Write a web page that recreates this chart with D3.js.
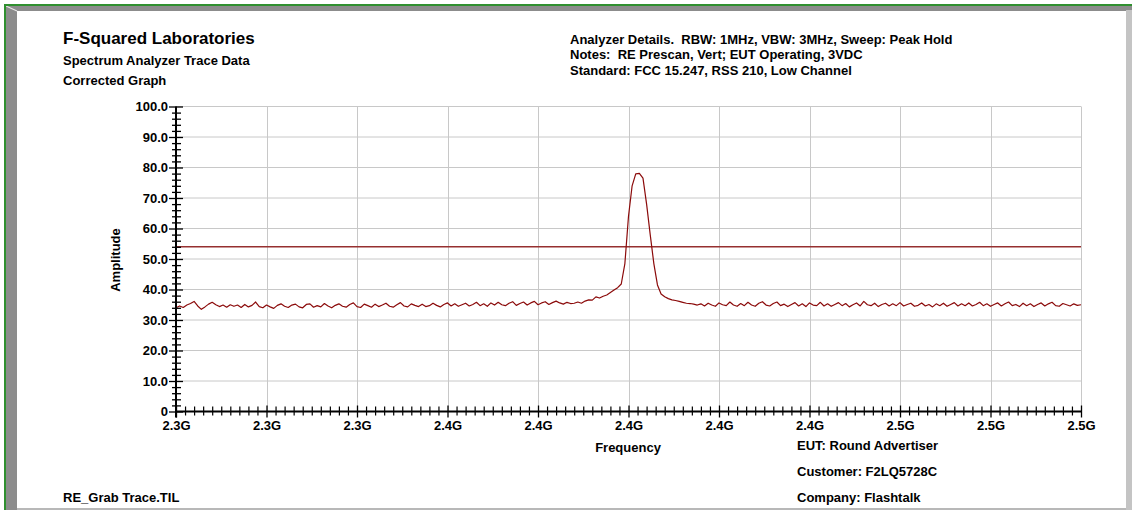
<!DOCTYPE html>
<html>
<head>
<meta charset="utf-8">
<script src="https://cdn.jsdelivr.net/npm/d3@7"></script>
<style>
  html, body { margin: 0; padding: 0; background: #ffffff; }
  svg { display: block; }
  text { font-family: "Liberation Sans", Arial, Helvetica, sans-serif; font-weight: bold; fill: #000; white-space: pre; }
</style>
</head>
<body>
<svg id="chart" width="1132" height="510"></svg>
<script>
// ---- Sweep settings (Hz) ----
const sweepStartHz = 2.30e9;
const sweepStopHz = 2.50e9;

// ---- Measured amplitude trace (dBuV/m), peak-hold sweep, 251 points ----
const traceAmplitude = [
  34.0, 34.6, 34.1, 34.9, 35.4, 36.1, 34.6, 33.5, 34.3, 35.2,
  35.8, 35.0, 34.4, 34.9, 34.2, 35.0, 34.5, 34.9, 34.1, 35.1,
  34.3, 34.8, 35.9, 34.4, 34.0, 34.9, 34.3, 33.8, 34.8, 35.3,
  34.5, 34.1, 34.9, 35.2, 34.3, 34.0, 35.1, 35.3, 34.2, 34.7,
  34.3, 35.4, 34.6, 34.0, 34.8, 35.3, 34.5, 34.2, 35.1, 35.6,
  34.4, 34.1, 35.2, 34.7, 34.2, 35.2, 34.4, 34.9, 35.5, 34.5,
  34.2, 35.0, 35.7, 34.6, 34.3, 35.3, 34.8, 34.4, 35.2, 34.4,
  34.7, 35.5, 34.8, 34.3, 35.1, 35.6, 34.6, 35.3, 34.5, 35.0,
  35.5, 34.6, 35.1, 35.8, 34.7, 35.3, 34.5, 35.6, 34.9, 35.8,
  35.0, 34.7, 35.5, 36.0, 34.8, 35.4, 35.9, 34.9, 35.6, 36.1,
  35.0, 35.6, 36.0, 35.1, 35.7, 36.2, 35.6, 35.2, 35.8, 35.4,
  35.5, 35.9, 35.5, 36.2, 36.6, 36.5, 37.6, 37.2, 37.8, 38.2,
  39.0, 39.8, 40.6, 41.8, 48.5, 64.0, 74.0, 77.9, 78.1, 76.5,
  68.0, 58.0, 48.5, 41.5, 38.5, 37.6, 37.0, 36.6, 36.4, 36.1,
  35.8, 35.5, 35.4, 35.2, 34.9, 35.3, 34.6, 35.5, 34.9, 34.5,
  35.6, 35.0, 34.7, 35.9, 34.9, 34.5, 35.4, 34.7, 35.8, 34.9,
  34.5, 35.5, 36.0, 34.9, 34.6, 35.4, 35.9, 34.7, 35.2, 34.4,
  35.1, 35.7, 34.6, 35.3, 34.4, 35.6, 34.9, 34.7, 35.8, 34.6,
  35.3, 34.5, 35.1, 35.7, 34.7, 35.4, 34.3, 35.0, 35.6, 34.6,
  36.1, 35.0, 34.7, 35.5, 34.4, 35.1, 35.5, 34.6, 35.3, 34.7,
  35.7, 34.6, 35.1, 35.5, 34.5, 34.8, 35.6, 34.6, 35.1, 34.3,
  35.3, 34.7, 35.5, 34.5, 35.1, 35.7, 34.6, 35.3, 34.7, 35.6,
  34.6, 35.1, 35.8, 34.7, 35.3, 34.5, 35.1, 35.6, 34.6, 35.3,
  35.9, 34.7, 35.1, 34.4, 35.5, 34.7, 35.3, 34.4, 35.1, 35.6,
  34.6, 35.3, 35.8, 34.7, 34.5, 35.4, 35.0, 34.6, 35.3, 34.8,
  35.0
];

// ---- Limit line (dBuV/m) ----
const limitLevel = 54.0;

// ---- Axis ticks ----
const xTickValuesGHz = [2.30, 2.32, 2.34, 2.36, 2.38, 2.40, 2.42, 2.44, 2.46, 2.48, 2.50];
const xTickLabels = ["2.3G", "2.3G", "2.3G", "2.4G", "2.4G", "2.4G", "2.4G", "2.4G", "2.5G", "2.5G", "2.5G"];
const xMinorStepGHz = 0.002;
const yTickValues = [0, 10, 20, 30, 40, 50, 60, 70, 80, 90, 100];
const yTickLabels = ["0", "10.0", "20.0", "30.0", "40.0", "50.0", "60.0", "70.0", "80.0", "90.0", "100.0"];
const yMinorStep = 2;

// ---- Captions ----
const titleLines = ["F-Squared Laboratories", "Spectrum Analyzer Trace Data", "Corrected Graph"];
const detailLines = [
  "Analyzer Details.  RBW: 1MHz, VBW: 3MHz, Sweep: Peak Hold",
  "Notes:  RE Prescan, Vert; EUT Operating, 3VDC",
  "Standard: FCC 15.247, RSS 210, Low Channel"
];
const infoLines = ["EUT: Round Advertiser", "Customer: F2LQ5728C", "Company: Flashtalk"];
const fileName = "RE_Grab Trace.TIL";
const xAxisTitle = "Frequency";
const yAxisTitle = "Amplitude";

const svg = d3.select("#chart");
const W = 1132, H = 510;
const FS = 13;

// ---- Window frame ----
const frame = svg.append("g");
frame.append("rect").attr("x", 0).attr("y", 0).attr("width", W).attr("height", H).attr("fill", "#ffffff");
frame.append("rect").attr("x", 5).attr("y", 5).attr("width", W - 5).attr("height", 6).attr("fill", "#8c8c8c");
frame.append("rect").attr("x", 5).attr("y", 5).attr("width", 12).attr("height", H - 5).attr("fill", "#8c8c8c");
frame.append("rect").attr("x", 1126).attr("y", 10).attr("width", 6).attr("height", H - 10).attr("fill", "#c4c4c4");
frame.append("rect").attr("x", 17).attr("y", 508).attr("width", 1109).attr("height", 2).attr("fill", "#b8b8b8");
frame.append("line").attr("x1", 6).attr("y1", 6).attr("x2", 17).attr("y2", 11)
  .attr("stroke", "#e8e8e8").attr("stroke-width", 1.2);
frame.append("rect").attr("x", 4).attr("y", 4).attr("width", W - 4).attr("height", 2).attr("fill", "#2f8f2f");
frame.append("rect").attr("x", 4).attr("y", 4).attr("width", 2).attr("height", H - 4).attr("fill", "#2f8f2f");

// ---- Scales ----
const x = d3.scaleLinear().domain([sweepStartHz, sweepStopHz]).range([176, 1081]);
const y = d3.scaleLinear().domain([0, 100]).range([411.5, 106.5]);

const stepHz = (sweepStopHz - sweepStartHz) / (traceAmplitude.length - 1);
const tracePoints = traceAmplitude.map((a, i) => [sweepStartHz + i * stepHz, a]);

const xMajor = xTickValuesGHz.map(g => Math.round(g * 1e9));
const xMinor = d3.range(Math.round((sweepStopHz - sweepStartHz) / (xMinorStepGHz * 1e9)) + 1)
  .map(k => sweepStartHz + k * xMinorStepGHz * 1e9)
  .filter(v => !xMajor.some(m => Math.abs(m - v) < 1));
const yMinor = d3.range(0, 101, yMinorStep).filter(v => v % 10 !== 0);

// ---- Grid ----
const grid = svg.append("g").attr("stroke", "#c8c8c8").attr("stroke-width", 1);
grid.selectAll("line.h").data(yTickValues.filter(v => v > 0)).join("line")
  .attr("class", "h")
  .attr("x1", x(sweepStartHz)).attr("x2", x(sweepStopHz))
  .attr("y1", d => y(d)).attr("y2", d => y(d));
grid.selectAll("line.v").data(xMajor.slice(1)).join("line")
  .attr("class", "v")
  .attr("x1", d => Math.round(x(d)) + 0.5).attr("x2", d => Math.round(x(d)) + 0.5)
  .attr("y1", y(0)).attr("y2", y(100));

// ---- Limit line ----
svg.append("line")
  .attr("x1", x(sweepStartHz)).attr("x2", x(sweepStopHz))
  .attr("y1", y(limitLevel)).attr("y2", y(limitLevel))
  .attr("stroke", "#963030").attr("stroke-width", 1.5);

// ---- Trace ----
svg.append("path")
  .datum(tracePoints)
  .attr("fill", "none")
  .attr("stroke", "#8b0a0a")
  .attr("stroke-width", 1.2)
  .attr("stroke-linejoin", "round")
  .attr("d", d3.line().x(d => x(d[0])).y(d => y(d[1])));

// ---- Y axis (crossing ticks) ----
const yAxisX = x(sweepStartHz);
const yAxisG = svg.append("g").attr("transform", `translate(${yAxisX},0)`);
yAxisG.append("g")
  .call(d3.axisLeft(y).tickValues(yMinor).tickSize(4).tickFormat(""))
  .call(g => g.select(".domain").remove())
  .call(g => g.selectAll(".tick line").attr("x1", 5).attr("stroke", "#000").attr("stroke-width", 1.3));
yAxisG.append("g")
  .call(d3.axisLeft(y).tickValues(yTickValues).tickSize(7).tickPadding(1)
    .tickFormat((d, i) => yTickLabels[i]))
  .call(g => g.select(".domain").remove())
  .call(g => g.selectAll(".tick line").attr("x1", 7).attr("stroke", "#000").attr("stroke-width", 1.3))
  .call(g => g.selectAll(".tick text")
    .attr("font-size", FS).attr("font-family", null).attr("fill", "#000"));
yAxisG.append("line").attr("x1", 0).attr("x2", 0).attr("y1", y(100)).attr("y2", y(0) + 6)
  .attr("stroke", "#000").attr("stroke-width", 2);

// ---- X axis (crossing ticks) ----
const xAxisY = y(0);
const xAxisG = svg.append("g").attr("transform", `translate(0,${xAxisY})`);
xAxisG.append("g")
  .call(d3.axisBottom(x).tickValues(xMinor).tickSize(4).tickFormat(""))
  .call(g => g.select(".domain").remove())
  .call(g => g.selectAll(".tick line").attr("y1", -5).attr("stroke", "#000").attr("stroke-width", 1.2));
xAxisG.append("g")
  .call(d3.axisBottom(x).tickValues(xMajor).tickSize(6).tickPadding(3)
    .tickFormat((d, i) => xTickLabels[i]))
  .call(g => g.select(".domain").remove())
  .call(g => g.selectAll(".tick line").attr("y1", -6).attr("stroke", "#000").attr("stroke-width", 1.3))
  .call(g => g.selectAll(".tick text")
    .attr("font-size", FS).attr("font-family", null).attr("fill", "#000"));
xAxisG.append("line").attr("x1", x(sweepStartHz) - 1).attr("x2", x(sweepStopHz))
  .attr("y1", 0).attr("y2", 0).attr("stroke", "#000").attr("stroke-width", 2);

// ---- Axis titles ----
svg.append("text").attr("x", 628).attr("y", 452).attr("text-anchor", "middle")
  .attr("font-size", FS).text(xAxisTitle);
svg.append("text").attr("transform", "translate(119.5,260) rotate(-90)").attr("text-anchor", "middle")
  .attr("font-size", FS).text(yAxisTitle);

// ---- Header and footer captions ----
const titleSizes = [17, FS, FS];
const titleBaselines = [44, 64.5, 84.5];
svg.selectAll("text.title").data(titleLines).join("text")
  .attr("class", "title")
  .attr("x", 63).attr("y", (d, i) => titleBaselines[i])
  .attr("font-size", (d, i) => titleSizes[i])
  .text(d => d);

const detailBaselines = [43.5, 59, 75];
svg.selectAll("text.detail").data(detailLines).join("text")
  .attr("class", "detail")
  .attr("x", 570).attr("y", (d, i) => detailBaselines[i])
  .attr("font-size", FS)
  .text(d => d);

const infoBaselines = [450, 476, 501.5];
svg.selectAll("text.info").data(infoLines).join("text")
  .attr("class", "info")
  .attr("x", 797).attr("y", (d, i) => infoBaselines[i])
  .attr("font-size", FS)
  .text(d => d);

svg.append("text").attr("x", 63).attr("y", 501.5).attr("font-size", FS).text(fileName);
</script>
</body>
</html>
